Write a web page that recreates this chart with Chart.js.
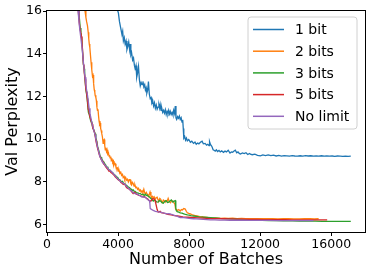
<!DOCTYPE html>
<html>
<head>
<meta charset="utf-8">
<script src="https://cdn.jsdelivr.net/npm/chart.js@4/dist/chart.umd.min.js"></script>
<style>
  html, body { margin: 0; padding: 0; background: #fff; }
  canvas { display: block; }
</style>
</head>
<body>
<canvas id="myChart" width="374" height="275"></canvas>
<script>
// [batch, val perplexity]
const bit1 = [[3850,16.6],[3950,16.1],[4020,15.9],[4080,15.5],[4150,15.2],[4220,14.9],[4260,15.05],[4300,14.6],[4350,14.75],[4400,14.45],[4450,14.6],[4500,14.2],[4550,14.35],[4600,14.55],[4650,14.2],[4680,14.45],[4720,13.95],[4760,14.05],[4820,13.7],[4870,13.8],[4920,13.45],[4960,13.3],[5010,13.45],[5050,12.9],[5100,13.1],[5150,13.4],[5200,12.8],[5250,12.5],[5300,12.65],[5350,12.55],[5400,12.7],[5450,12.45],[5500,12.55],[5540,12.3],[5580,12.4],[5620,12.15],[5670,12.3],[5710,12.7],[5760,12.1],[5810,11.9],[5860,11.95],[5900,11.7],[5950,11.8],[6000,11.55],[6050,11.7],[6100,11.45],[6150,11.6],[6200,11.4],[6250,11.5],[6300,11.6],[6340,11.45],[6370,11.62],[6420,11.35],[6460,11.45],[6510,11.25],[6560,11.35],[6610,11.22],[6660,11.38],[6710,11.15],[6760,11.3],[6810,11.2],[6850,11.35],[6900,11.18],[6940,11.3],[6990,11.15],[7040,11.25],[7090,11.12],[7130,11.35],[7180,11.2],[7220,11.55],[7260,11.0],[7300,10.92],[7350,11.05],[7400,10.98],[7450,11.08],[7500,10.92],[7550,11.0],[7600,10.8],[7640,10.9],[7670,10.5],[7700,10.05],[7750,10.12],[7800,9.95],[7850,10.05],[7900,9.92],[7980,9.98],[8070,9.85],[8150,9.9],[8250,9.8],[8330,9.86],[8400,9.76],[8480,9.82],[8550,9.78],[8650,9.86],[8730,9.9],[8800,9.78],[8900,9.8],[8980,9.72],[9050,9.76],[9120,9.7],[9150,9.88],[9200,9.75],[9250,9.7],[9300,9.62],[9350,9.5],[9400,9.48],[9470,9.44],[9530,9.5],[9600,9.42],[9680,9.47],[9750,9.4],[9830,9.45],[9940,9.38],[10020,9.44],[10100,9.4],[10200,9.48],[10300,9.35],[10380,9.4],[10450,9.38],[10530,9.44],[10600,9.48],[10680,9.36],[10750,9.4],[10820,9.33],[10890,9.3],[11000,9.35],[11100,9.32],[11200,9.36],[11300,9.28],[11400,9.33],[11450,9.3],[11550,9.27],[11700,9.3],[11850,9.24],[12010,9.22],[12150,9.26],[12300,9.23],[12450,9.26],[12600,9.23],[12750,9.25],[12900,9.21],[13050,9.24],[13200,9.2],[13350,9.23],[13500,9.22],[13650,9.2],[13800,9.23],[13950,9.21],[14100,9.2],[14250,9.22],[14400,9.2],[14550,9.23],[14700,9.21],[14850,9.22],[15000,9.2],[15150,9.21],[15300,9.2],[15450,9.22],[15600,9.2],[15750,9.21],[15900,9.2],[16050,9.21],[16200,9.19],[16350,9.21],[16500,9.2],[16650,9.19],[16800,9.2],[16950,9.19],[17100,9.2]];

const bits2 = [[2050,16.8],[2140,16.0],[2190,15.7],[2230,15.5],[2280,15.3],[2320,15.0],[2350,14.7],[2380,14.45],[2410,14.3],[2440,14.0],[2480,13.6],[2520,13.25],[2560,12.95],[2590,13.0],[2610,12.75],[2640,12.6],[2660,12.3],[2690,12.2],[2710,12.05],[2750,11.95],[2780,11.8],[2810,11.5],[2840,11.35],[2870,11.4],[2900,11.1],[2930,10.85],[2960,10.7],[2990,10.75],[3020,10.5],[3050,10.4],[3085,10.25],[3120,10.1],[3160,9.8],[3190,9.95],[3220,9.98],[3250,9.7],[3280,9.5],[3310,9.6],[3350,9.42],[3380,9.5],[3420,9.3],[3460,9.35],[3490,9.2],[3520,9.25],[3550,9.12],[3590,9.18],[3620,9.0],[3660,9.05],[3700,8.92],[3740,8.97],[3770,8.8],[3800,8.88],[3840,8.85],[3880,8.7],[3920,8.62],[3960,8.65],[4000,8.5],[4050,8.55],[4100,8.4],[4150,8.45],[4200,8.3],[4250,8.35],[4290,8.2],[4340,8.25],[4380,8.12],[4430,8.2],[4480,8.08],[4530,8.12],[4580,8.0],[4630,8.1],[4680,8.1],[4720,7.9],[4760,7.85],[4800,7.98],[4850,7.92],[4900,7.8],[4950,7.85],[5000,7.72],[5050,7.75],[5100,7.65],[5150,7.7],[5200,7.58],[5250,7.62],[5300,7.52],[5350,7.58],[5400,7.5],[5450,7.65],[5500,7.48],[5540,7.42],[5590,7.5],[5640,7.42],[5680,7.38],[5720,7.32],[5760,7.42],[5800,7.52],[5850,7.35],[5900,7.28],[5940,7.32],[5980,7.25],[6030,7.3],[6080,7.18],[6140,7.25],[6200,7.28],[6250,7.15],[6300,7.12],[6350,7.22],[6400,7.18],[6450,7.08],[6500,7.03],[6550,7.15],[6600,7.12],[6650,7.05],[6700,7.12],[6760,7.08],[6820,7.22],[6880,7.08],[6950,7.02],[7020,7.12],[7100,7.08],[7160,7.0],[7200,6.95],[7240,6.72],[7300,6.7],[7350,6.66],[7420,6.7],[7500,6.63],[7560,6.7],[7620,6.68],[7700,6.75],[7780,6.73],[7840,6.62],[7900,6.55],[7980,6.52],[8070,6.5],[8150,6.47],[8250,6.44],[8350,6.42],[8450,6.4],[8550,6.38],[8650,6.36],[8750,6.37],[8850,6.34],[9020,6.33],[9150,6.31],[9300,6.3],[9500,6.31],[9760,6.29],[10000,6.3],[10200,6.29],[10450,6.3],[10700,6.28],[10950,6.29],[11200,6.28],[11500,6.28],[11800,6.27],[12100,6.28],[12400,6.27],[12700,6.27],[13000,6.26],[13300,6.27],[13600,6.27],[13900,6.26],[14200,6.26],[14500,6.27],[14800,6.27],[15050,6.26],[15290,6.27]];

const bits3 = [[1700,16.6],[1780,16.0],[1830,15.6],[1870,15.2],[1910,15.0],[1955,14.7],[2000,14.1],[2050,13.5],[2090,13.3],[2120,13.0],[2160,12.6],[2200,12.25],[2230,12.1],[2260,11.9],[2300,11.5],[2330,11.25],[2380,11.15],[2420,11.0],[2470,10.9],[2520,10.8],[2560,10.6],[2600,10.5],[2650,10.4],[2707,10.25],[2750,10.05],[2800,9.9],[2850,9.65],[2900,9.5],[2950,9.35],[2990,9.2],[3040,9.15],[3080,9.08],[3120,9.02],[3160,8.95],[3200,8.92],[3250,8.85],[3300,8.8],[3340,8.72],[3380,8.7],[3430,8.62],[3480,8.55],[3540,8.56],[3600,8.48],[3660,8.45],[3720,8.4],[3780,8.34],[3850,8.3],[3910,8.24],[3980,8.2],[4040,8.12],[4100,8.1],[4150,8.04],[4200,8.0],[4250,8.02],[4290,7.96],[4340,7.92],[4400,7.9],[4460,7.84],[4520,7.8],[4580,7.76],[4650,7.72],[4700,7.67],[4760,7.65],[4800,7.6],[4850,7.62],[4900,7.56],[4960,7.55],[5030,7.5],[5100,7.48],[5170,7.46],[5250,7.45],[5320,7.4],[5400,7.42],[5470,7.36],[5540,7.42],[5590,7.36],[5640,7.38],[5700,7.32],[5760,7.3],[5820,7.24],[5880,7.2],[5930,7.14],[5980,7.1],[6040,7.15],[6100,7.12],[6170,7.06],[6250,7.05],[6320,7.12],[6400,7.1],[6470,7.02],[6550,7.0],[6620,7.08],[6700,7.12],[6780,7.03],[6850,7.05],[6920,7.1],[7000,7.15],[7080,7.05],[7150,7.1],[7220,7.12],[7250,6.75],[7280,6.65],[7330,6.6],[7420,6.58],[7500,6.55],[7600,6.53],[7700,6.5],[7800,6.47],[7900,6.45],[8000,6.44],[8100,6.42],[8250,6.4],[8400,6.38],[8550,6.36],[8700,6.35],[8850,6.34],[9020,6.33],[9200,6.32],[9400,6.31],[9600,6.3],[9760,6.29],[10000,6.28],[10300,6.26],[10600,6.25],[11000,6.23],[11300,6.22],[11700,6.2],[12100,6.19],[12500,6.18],[12900,6.18],[13300,6.17],[13800,6.17],[14200,6.16],[14700,6.16],[15100,6.16],[15500,6.15],[16000,6.15],[16500,6.15],[17100,6.15]];

const bits5 = [[1700,16.6],[1760,16.0],[1800,15.6],[1850,15.2],[1900,15.0],[1940,14.8],[1970,14.5],[2000,14.2],[2050,13.5],[2080,13.4],[2100,13.1],[2140,12.8],[2180,12.4],[2220,12.2],[2250,12.0],[2290,11.7],[2320,11.4],[2360,11.3],[2400,11.1],[2450,10.95],[2500,10.8],[2540,10.7],[2580,10.5],[2630,10.42],[2680,10.3],[2720,10.1],[2760,9.9],[2800,9.75],[2850,9.6],[2900,9.4],[2950,9.25],[3000,9.15],[3050,9.05],[3100,8.98],[3150,8.9],[3200,8.86],[3250,8.78],[3310,8.7],[3380,8.62],[3430,8.58],[3480,8.5],[3540,8.5],[3600,8.44],[3660,8.4],[3720,8.35],[3780,8.3],[3850,8.22],[3910,8.18],[3980,8.12],[4040,8.08],[4100,8.05],[4150,7.98],[4200,7.95],[4250,7.92],[4290,7.88],[4340,7.9],[4400,7.85],[4460,7.75],[4520,7.7],[4580,7.68],[4650,7.65],[4700,7.6],[4760,7.55],[4800,7.5],[4850,7.45],[4900,7.5],[4960,7.5],[5030,7.42],[5100,7.4],[5170,7.37],[5250,7.35],[5320,7.32],[5400,7.3],[5470,7.3],[5540,7.28],[5600,7.22],[5660,7.2],[5730,7.14],[5800,7.1],[5850,7.12],[5900,7.15],[5950,7.22],[6000,7.2],[6050,7.18],[6090,7.1],[6120,7.0],[6160,6.85],[6200,6.7],[6260,6.58],[6320,6.6],[6370,6.62],[6430,6.56],[6500,6.55],[6570,6.53],[6650,6.52],[6720,6.5],[6800,6.48],[6900,6.46],[7000,6.45],[7100,6.43],[7200,6.42],[7350,6.4],[7500,6.38],[7650,6.36],[7800,6.35],[7950,6.34],[8100,6.33],[8300,6.32],[8500,6.31],[8750,6.3],[9000,6.29],[9300,6.28],[9600,6.28],[9950,6.27],[10300,6.26],[10650,6.25],[11000,6.25],[11400,6.24],[11800,6.24],[12200,6.23],[12600,6.23],[13000,6.23],[13400,6.23],[13800,6.22],[14200,6.22],[14600,6.22],[15000,6.22],[15400,6.22],[15770,6.22]];

const noLimit = [[1700,16.6],[1750,16.0],[1800,15.5],[1850,15.1],[1910,14.7],[1970,14.3],[2010,13.95],[2050,13.6],[2100,13.2],[2140,12.9],[2190,12.55],[2230,12.3],[2280,12.05],[2320,11.8],[2370,11.45],[2420,11.2],[2470,11.0],[2520,10.8],[2560,10.65],[2600,10.55],[2650,10.35],[2710,10.2],[2750,10.0],[2800,9.8],[2850,9.6],[2900,9.45],[2950,9.28],[2990,9.15],[3040,9.08],[3080,9.0],[3140,8.92],[3200,8.85],[3250,8.8],[3300,8.75],[3340,8.7],[3380,8.68],[3440,8.6],[3500,8.55],[3550,8.53],[3600,8.5],[3660,8.45],[3720,8.4],[3780,8.33],[3850,8.28],[3910,8.2],[3980,8.15],[4040,8.1],[4100,8.05],[4150,8.0],[4200,7.98],[4250,7.96],[4290,7.93],[4340,7.9],[4400,7.88],[4460,7.8],[4520,7.75],[4580,7.7],[4650,7.65],[4700,7.6],[4760,7.58],[4800,7.52],[4850,7.5],[4900,7.47],[4960,7.45],[5030,7.44],[5100,7.42],[5170,7.38],[5250,7.35],[5320,7.3],[5400,7.3],[5470,7.28],[5540,7.27],[5600,7.22],[5640,7.2],[5700,7.15],[5760,7.12],[5790,7.0],[5810,6.75],[5860,6.72],[5900,6.7],[5940,6.68],[5980,6.66],[6040,6.64],[6100,6.62],[6170,6.6],[6250,6.6],[6320,6.58],[6400,6.58],[6470,6.56],[6550,6.55],[6650,6.52],[6770,6.5],[6850,6.51],[6940,6.5],[7020,6.47],[7100,6.45],[7200,6.42],[7300,6.4],[7400,6.36],[7500,6.33],[7600,6.33],[7700,6.32],[7800,6.31],[7900,6.3],[8000,6.29],[8100,6.28],[8250,6.27],[8400,6.26],[8600,6.25],[8800,6.24],[9000,6.23],[9190,6.22],[9450,6.22],[9700,6.21],[10000,6.21],[10300,6.2],[10650,6.2],[11000,6.2],[11350,6.19],[11700,6.19],[12100,6.19],[12500,6.19],[12900,6.18],[13300,6.18],[13750,6.18],[14200,6.18],[14600,6.18],[15000,6.18]];

const seriesLabels = ['1 bit', '2 bits', '3 bits', '5 bits', 'No limit'];
const seriesData = [bit1, bits2, bits3, bits5, noLimit];
const colors = ['#1f77b4', '#ff7f0e', '#2ca02c', '#d62728', '#9467bd'];

const xTicks = [0, 4000, 8000, 12000, 16000];
const yTicks = [6, 8, 10, 12, 14, 16];

Chart.defaults.font.family = 'DejaVu Sans';
Chart.defaults.color = '#000';

// matplotlib style box + legend
const framePlugin = {
    id: 'frame',
    afterDraw(chart) {
        const { ctx, chartArea: a } = chart;
        ctx.save();
        ctx.strokeStyle = '#000';
        ctx.lineWidth = 1;
        ctx.strokeRect(Math.round(a.left) - 0.5, Math.round(a.top) - 0.5,
            Math.round(a.right - a.left) + 1, Math.round(a.bottom - a.top) + 1);

        // legend box
        const bx = 248, by = 17, bw = 109, bh = 112, r = 3;
        ctx.beginPath();
        ctx.moveTo(bx + r, by);
        ctx.arcTo(bx + bw, by, bx + bw, by + bh, r);
        ctx.arcTo(bx + bw, by + bh, bx, by + bh, r);
        ctx.arcTo(bx, by + bh, bx, by, r);
        ctx.arcTo(bx, by, bx + bw, by, r);
        ctx.closePath();
        ctx.fillStyle = 'rgba(255,255,255,0.8)';
        ctx.fill();
        ctx.strokeStyle = '#d0d0d0';
        ctx.stroke();

        ctx.font = '14px "DejaVu Sans"';
        ctx.textBaseline = 'middle';
        ctx.fillStyle = '#000';
        chart.data.datasets.forEach((ds, i) => {
            const y = 29.5 + i * 21.7;
            ctx.beginPath();
            ctx.moveTo(253, y);
            ctx.lineTo(284, y);
            ctx.strokeStyle = ds.borderColor;
            ctx.lineWidth = 1.5;
            ctx.stroke();
            ctx.fillText(ds.label, 295, y + 1);
        });
        ctx.restore();
    }
};

new Chart(document.getElementById('myChart'), {
    type: 'line',
    data: {
        datasets: seriesData.map((d, i) => ({
            label: seriesLabels[i],
            data: d.map(p => ({ x: p[0], y: p[1] })),
            borderColor: colors[i],
            borderWidth: 1.3,
            pointRadius: 0,
            fill: false,
            tension: 0,
            order: 5 - i
        }))
    },
    options: {
        responsive: false,
        animation: false,
        layout: { padding: { left: 0, right: 9, top: 11, bottom: 0 } },
        plugins: { legend: { display: false }, tooltip: { enabled: false } },
        scales: {
            x: {
                type: 'linear',
                min: 0,
                max: 17900,
                afterBuildTicks: s => { s.ticks = xTicks.map(v => ({ value: v })); },
                afterFit: s => { s.height = 43; },
                grid: { drawOnChartArea: false, drawTicks: true, tickLength: 4, color: '#000' },
                border: { display: false },
                ticks: { font: { size: 12.5 }, padding: 1, maxRotation: 0, callback: v => String(v) },
                title: { display: true, text: 'Number of Batches', font: { size: 16 }, padding: { top: 0, bottom: 6 } }
            },
            y: {
                min: 5.65,
                max: 16,
                afterBuildTicks: s => { s.ticks = yTicks.map(v => ({ value: v })); },
                afterFit: s => { s.width = 47; },
                grid: { drawOnChartArea: false, drawTicks: true, tickLength: 4, color: '#000' },
                border: { display: false },
                ticks: { font: { size: 12.5 }, padding: 1, callback: v => String(v) },
                title: { display: true, text: 'Val Perplexity', font: { size: 16 }, padding: { top: 3, bottom: 0 } }
            }
        }
    },
    plugins: [framePlugin]
});
</script>
</body>
</html>
